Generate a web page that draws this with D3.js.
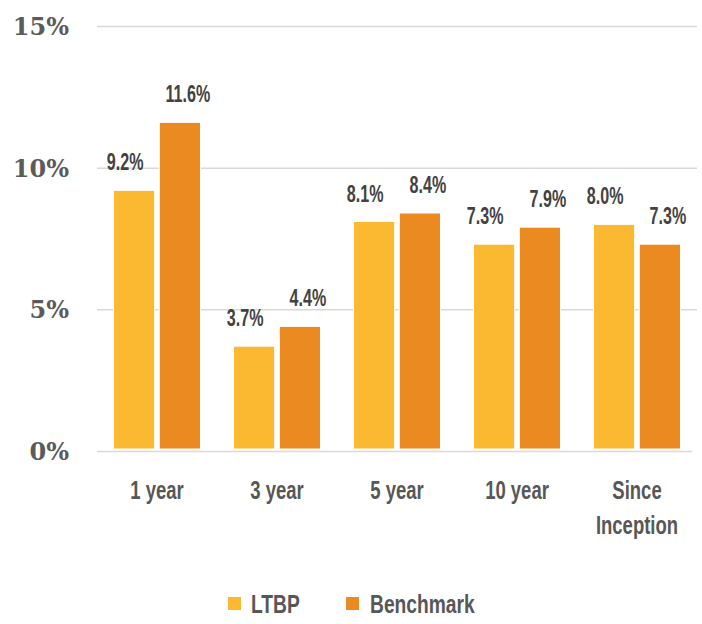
<!DOCTYPE html>
<html>
<head>
<meta charset="utf-8">
<script src="https://cdn.jsdelivr.net/npm/d3@7"></script>
<style>
  body { margin: 0; background: #fff; }
  .cond { font-family: "Liberation Sans", Arial, sans-serif; font-weight: bold; }
  .y.axis text { font-family: "DejaVu Serif", "Liberation Serif", "Noto Serif", serif; font-size: 24px; font-weight: bold; fill: #5b5b5b; }
  .y.axis line { stroke: #d9d9d9; stroke-width: 1.5; }
  .y.axis .domain { display: none; }
</style>
</head>
<body>
<svg id="chart" width="702" height="624"></svg>
<script>
// data van de grafiek
var categories = ["1 year", "3 year", "5 year", "10 year", "Since Inception"];
var seriesNames = ["LTBP", "Benchmark"];
var ltbp = [9.2, 3.7, 8.1, 7.3, 8.0];
var benchmark = [11.6, 4.4, 8.4, 7.9, 7.3];
var yTicks = [0, 5, 10, 15];
var colors = ["#fbb931", "#eb8a21"];

// smalle letter: geen condensed font aanwezig, dus horizontaal schalen
var narrow = 0.74;

var svg = d3.select("#chart"),
    margin = { top: 26, right: 5, bottom: 173, left: 97 },
    width = +svg.attr("width") - margin.left - margin.right,
    height = +svg.attr("height") - margin.top - margin.bottom;

var g = svg.append("g")
    .attr("transform", "translate(" + margin.left + "," + margin.top + ")");

// rijen per categorie
var rows = categories.map(function(c, i) {
  return { name: c, values: [ltbp[i], benchmark[i]] };
});

var x0 = d3.scaleBand().domain(categories).range([0, 600])
    .paddingInner(0.275).paddingOuter(0.1375);
var x1 = d3.scaleBand().domain(seriesNames).range([0, x0.bandwidth()]).paddingInner(0.1);
var y = d3.scaleLinear().domain([0, 15]).range([height, 0]);

// gridlijnen + y labels
var yAxis = g.append("g")
    .attr("class", "y axis")
    .call(d3.axisLeft(y).tickValues(yTicks).tickSize(-width).tickPadding(28)
      .tickFormat(function(d) { return d + "%"; }));
yAxis.selectAll("text").attr("dy", "0.35em");
yAxis.selectAll(".tick").filter(function(d) { return d === 0; }).select("line")
    .attr("stroke", "#d2d2d2").attr("stroke-width", 4).attr("x2", width - 5);

// bars
var groups = g.selectAll(".group")
    .data(rows)
  .enter().append("g")
    .attr("class", "group")
    .attr("transform", function(d) { return "translate(" + x0(d.name) + ",0)"; });

function pairs(d) {
  return d.values.map(function(v, i) { return { key: seriesNames[i], value: v, i: i }; });
}

groups.selectAll("rect")
    .data(pairs)
  .enter().append("rect")
    .attr("x", function(d) { return x1(d.key); })
    .attr("y", function(d) { return y(d.value); })
    .attr("width", x1.bandwidth())
    .attr("height", function(d) { return y(0) - y(d.value) - 2; })
    .attr("fill", function(d) { return colors[d.i]; })
    .attr("stroke", "#fff")
    .attr("stroke-width", 1);

// waarde labels
groups.selectAll(".label")
    .data(pairs)
  .enter().append("text")
    .attr("class", "label cond")
    .attr("transform", function(d) {
      var cx = x1(d.key) + x1.bandwidth() / 2 + (d.i === 0 ? -9 : 8);
      return "translate(" + cx + "," + (y(d.value) - 20) + ") scale(0.7,1)";
    })
    .attr("text-anchor", "middle")
    .style("font-size", "23px")
    .style("fill", "#424242")
    .text(function(d) { return d.value.toFixed(1) + "%"; });

// x labels
var xAxis = g.append("g")
    .attr("class", "x axis")
    .attr("transform", "translate(0," + height + ")")
    .call(d3.axisBottom(x0).tickSize(0).tickFormat(""));
xAxis.select(".domain").remove();
xAxis.selectAll(".tick").append("text")
    .attr("class", "cond")
    .attr("text-anchor", "middle")
    .attr("transform", "scale(" + narrow + ",1)")
    .style("font-size", "25px")
    .style("fill", "#575757")
    .selectAll("tspan")
    .data(function(d) { return d === "Since Inception" ? d.split(" ") : [d]; })
  .enter().append("tspan")
    .attr("x", 0)
    .attr("y", function(d, i) { return 48 + i * 35; })
    .text(function(d) { return d; });

// legenda
var legend = svg.append("g").attr("transform", "translate(228,597)");
var legendX = [0, 118];
seriesNames.forEach(function(s, i) {
  legend.append("rect")
    .attr("x", legendX[i]).attr("y", 0)
    .attr("width", 13).attr("height", 13)
    .attr("fill", colors[i]);
  legend.append("text")
    .attr("class", "cond")
    .attr("transform", "translate(" + (legendX[i] + 23 + i) + ",16) scale(" + narrow + ",1)")
    .style("font-size", "26px")
    .style("fill", "#575757")
    .text(s);
});
</script>
</body>
</html>
